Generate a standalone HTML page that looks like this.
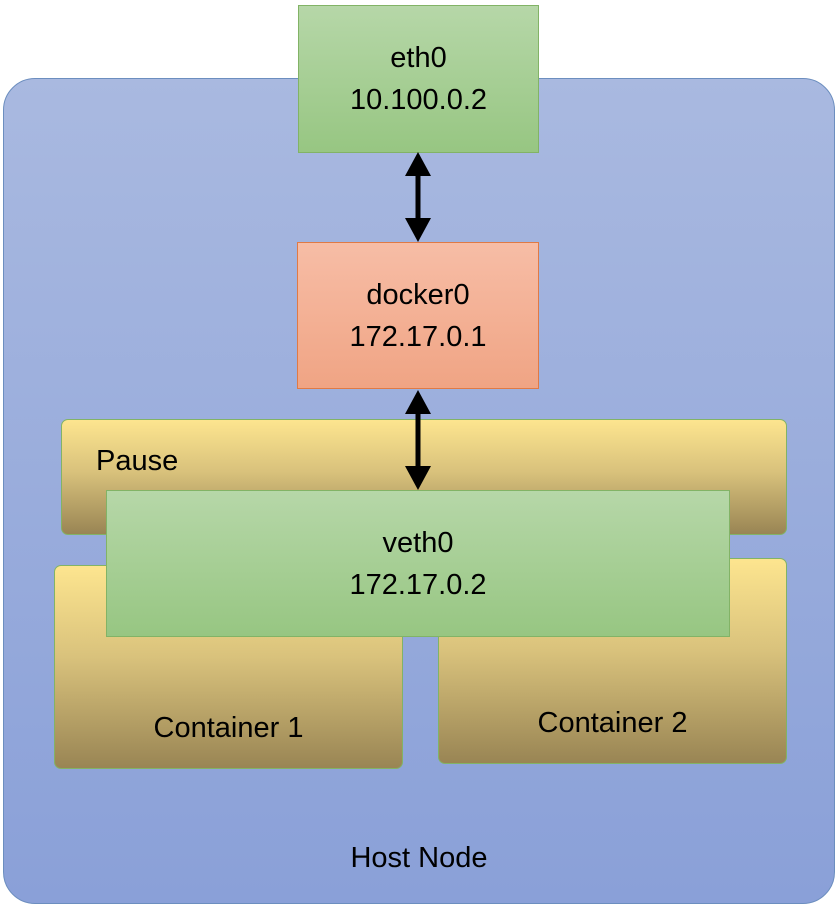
<!DOCTYPE html>
<html><head><style>
body{margin:0;width:838px;height:907px;background:#fff;position:relative;font-family:"Liberation Sans",sans-serif;overflow:hidden}
.b{position:absolute;box-sizing:border-box;display:flex;flex-direction:column;align-items:center;justify-content:center;color:#000;font-size:29px;line-height:42px;text-align:center}
.g{background:linear-gradient(#b6d7a8,#97c682);border:1.5px solid #82b366}
.y{background:linear-gradient(#fde58f,#d9c27c 45%,#998554);border:1.5px solid #82b366;border-radius:7px}
</style></head><body>
<div class="b" style="left:3px;top:78px;width:832px;height:826px;border:1.5px solid #6c8ebf;border-radius:32px;background:linear-gradient(#a9b9e0,#8aa0d8);justify-content:flex-end;padding-bottom:24px"><div>Host Node</div></div>
<div class="b g" style="left:298px;top:5px;width:241px;height:148px"><div>eth0<br>10.100.0.2</div></div>
<div class="b" style="left:297px;top:242px;width:242px;height:147px;background:linear-gradient(#f7bda6,#f0a484);border:1.5px solid #e07a45"><div>docker0<br>172.17.0.1</div></div>
<div class="b y" style="left:61px;top:419px;width:726px;height:116px;align-items:flex-start;justify-content:flex-start;padding:20px 0 0 34px"><div>Pause</div></div>
<div class="b y" style="left:54px;top:565px;width:349px;height:204px;justify-content:flex-end;padding-bottom:19px"><div>Container 1</div></div>
<div class="b y" style="left:438px;top:558px;width:349px;height:206px;justify-content:flex-end;padding-bottom:19px"><div>Container 2</div></div>
<div class="b g" style="left:106px;top:490px;width:624px;height:147px"><div>veth0<br>172.17.0.2</div></div>
<svg style="position:absolute;left:0;top:0" width="838" height="907">
<g stroke="#000" stroke-width="5"><line x1="418" y1="172" x2="418" y2="222"/><line x1="418" y1="410" x2="418" y2="470"/></g>
<g fill="#000"><polygon points="405,176 418,152 431,176"/><polygon points="405,218 418,242 431,218"/><polygon points="405,414 418,390 431,414"/><polygon points="405,466 418,490 431,466"/></g>
</svg>
</body></html>
